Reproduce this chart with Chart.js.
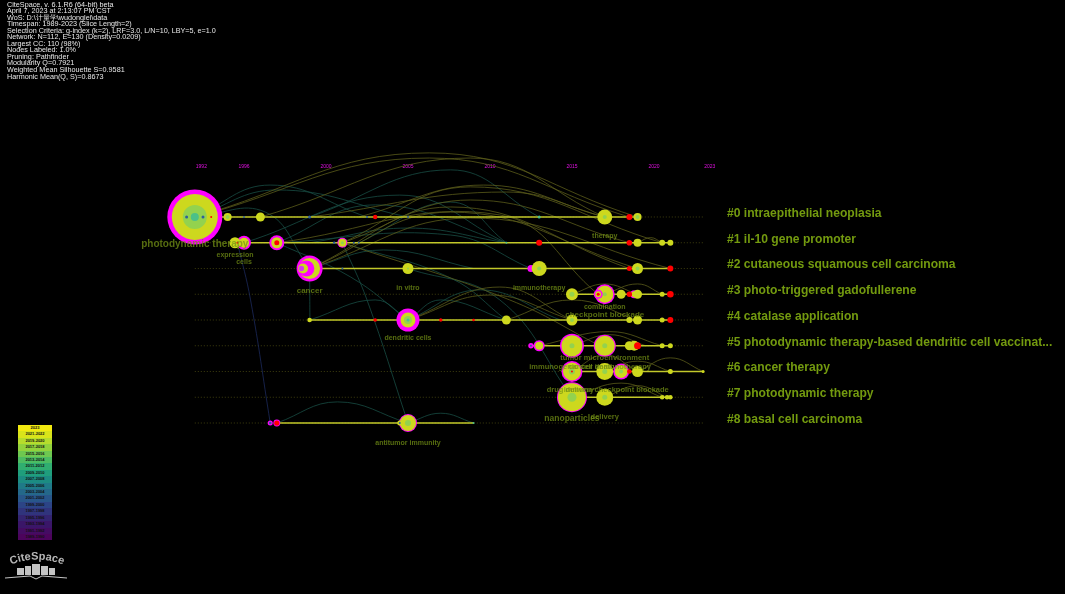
<!DOCTYPE html>
<html><head><meta charset="utf-8">
<script src="https://cdn.jsdelivr.net/npm/chart.js@4"></script>
<style>
html,body{margin:0;padding:0;background:#000;width:1065px;height:594px;overflow:hidden}
#wrap{position:relative;width:1065px;height:594px;filter:blur(.35px)}
canvas{position:absolute;left:0;top:0}
#info{position:absolute;left:7px;top:1.5px;color:#e8e8e8;font:7.22px/6.55px "Liberation Sans",Arial,sans-serif;white-space:pre}
#bar{position:absolute;left:18px;top:425px;width:34px;height:115px;display:flex;flex-direction:column}
#bar div{flex:1;font:bold 4px/6.4px "Liberation Sans",sans-serif;text-align:center;color:#111}
#logo{position:absolute;left:0;top:545px}
</style></head><body><div id="wrap">
<canvas id="c" width="1065" height="594"></canvas>
<div id="info"></div><div id="bar"></div>
<svg id="logo" width="75" height="40" viewBox="0 0 75 40">
<defs><path id="arc" d="M10 20 Q37 9 64 20"/></defs>
<text font-family="Liberation Sans" font-weight="bold" font-size="11" fill="#b5b5b5"><textPath href="#arc" startOffset="50%" text-anchor="middle">CiteSpace</textPath></text>
<g fill="#c4c4c4"><rect x="17" y="23" width="7" height="7"/><rect x="25" y="21" width="6" height="9"/><rect x="32" y="19" width="8" height="11"/><rect x="41" y="21" width="7" height="9"/><rect x="49" y="23" width="6" height="7"/></g>
<path d="M5 33 L30 31 L36 34 L42 31 L67 33" stroke="#c4c4c4" stroke-width="1" fill="none"/>
</svg>
</div>
<script>
const infoLines=["CiteSpace, v. 6.1.R6 (64-bit) beta","April 7, 2023 at 2:13:07 PM CST","WoS: D:\\计量学\\wudonglei\\data","Timespan: 1989-2023 (Slice Length=2)","Selection Criteria: g-index (k=2), LRF=3.0, L/N=10, LBY=5, e=1.0","Network: N=112, E=130 (Density=0.0209)","Largest CC: 110 (98%)","Nodes Labeled: 1.0%","Pruning: Pathfinder","Modularity Q=0.7921","Weighted Mean Silhouette S=0.9581","Harmonic Mean(Q, S)=0.8673"];
const legendYears=["2023","2021-2022","2019-2020","2017-2018","2015-2016","2013-2014","2011-2012","2009-2010","2007-2008","2005-2006","2003-2004","2001-2002","1999-2000","1997-1998","1995-1996","1993-1994","1991-1992","1989-1990"];
const legendColors=["#f2ea10","#d9e41a","#b6dc2c","#92d23c","#6ec850","#4cbc62","#30ae70","#1f9e7c","#1c8c82","#1f7a88","#24688a","#28568a","#2c4486","#30347c","#342470","#3a1668","#440c62","#4c045c"];
const clusterLabels=["#0 intraepithelial neoplasia","#1 il-10 gene promoter","#2 cutaneous squamous cell carcinoma","#3 photo-triggered gadofullerene","#4 catalase application","#5 photodynamic therapy-based dendritic cell vaccinat...","#6 cancer therapy","#7 photodynamic therapy","#8 basal cell carcinoma"];
const clusterTracks=[0,1,2,3,4,5,6,7,8];
const yearTickPositions=[1992.4,1995,2000,2005,2010,2015,2020,2023.4];
const yearTickLabels=["1992","1996","2000","2005","2010","2015","2020","2023"];
const trackStarts=[1992,1994.45,1999,2015,1999,2012.5,2015,2015,1997];
const trackEnds=[2019,2021,2021,2021,2021,2021,2023,2021,2009];
const baselineStart=1992,baselineEnd=2023;

const oliveLinks=[
[1992,0,2006.3,-2.49,2019,0],[1992,0,2006.3,-2.29,2018.5,0],[1996,0,2008.8,-2.29,2017,0],
[2002,0,2009.6,-1.24,2017,0],[1999,0,2011,-0.97,2017,0],[2001,1,2008.8,-1.17,2020.5,1],
[2001,1,2008.8,-0.66,2018.5,1],[1999,2,2007.6,-0.39,2018.5,2],[1999,2,2007.6,-0.19,2019,2],
[1999,2,2008.8,0.04,2021,2],[2005,4,2010.6,2.72,2015,4],[2005,4,2010,3.03,2015,4],
[2011,4,2015,3.22,2019,4],[2017,3,2019,2.6,2020.5,3],[2019,1,2019.8,0.8,2020.5,1],
[1997,1,2010.6,-0.08,2016.6,3],[2001,1,2011.2,3.22,2016.7,5],[2013,5,2017.3,4.45,2020.5,5],
[2015,5,2017.3,4.57,2019.5,5],[2015,6,2017,5.35,2019,6],[2019,6,2021,5.47,2023,6],
[2017,6,2019,5.6,2021,6],[2015,7,2018,6.45,2020.5,7],[2017,7,2019,6.55,2020.8,7],[2015,3,2017,2.6,2019,3]];
const tealLinks=[
[1992,0,1996.6,-1.24,2002.5,0],[1992,0,1997,-1.05,2005,0],[1999,0,2007.6,-1.83,2013,0],
[1995,1,2004.5,-0.85,2011,1],[1997,1,2003,-0.47,2011,1],[1997,1,2007.6,0.7,2012.5,2],
[1992,0,1996.3,-0.19,1999,2],[1999,2,1999.01,3,1999.02,4],[2001,1,2002.5,3.22,2005,8],
[1999,4,2003,3.22,2005,4],[2005,4,2007,3.22,2011,4],[1997,8,2000.7,7.18,2005,8],
[2005,8,2007,7.62,2009,8],[2001,1,2007.6,2.37,2011,4],[2002,1,2007.6,-0.58,2011,1],
[1999,2,2003.5,1.28,2009,2],[1997,1,2001.5,2.33,2005,4],[1999,1,2005,0.43,2011,1],
[2005,4,2009.4,2.83,2014.3,4],[2005,2,2010.6,3.22,2015,7]];
const navyLinks=[[1994.6,1,1995.4,3.22,1996.6,8]];

const outerBursts=[[1992,0,27.5],[1995,1,7],[1997,1,7.5],[2001,1,5],[1999,2,13],[2017,3,10],[2018.8,3,4],[2005,4,11.5],[2012.5,2,3.5],[2012.5,5,2.7],[2013,5,5.5],[2015,5,12],[2017,5,11],[2015,6,10.5],[2018,6,8],[2015,7,15],[2005,8,9],[1996.6,8,2.5],[1997,8,3.4]];
const bodies=[[1992,0,23],[1994,0,4],[1996,0,4.5],[2017,0,7.5],[2019,0,4],[1994.45,1,5.5],[1995,1,5],[1997,1,5.5],[2001,1,4],[2019,1,4],[2020.5,1,3],[2021,1,3],[1999,2,10.5],[2005,2,5.5],[2013,2,7.5],[2019,2,5.5],[2015,3,6],[2017,3,8.5],[2018,3,4.5],[2018.8,3,3],[2019,3,4.5],[2020.5,3,2.5],[1999,4,2.3],[2005,4,7.5],[2011,4,4.5],[2015,4,5.5],[2018.5,4,3],[2019,4,4.5],[2020.5,4,2.5],[2013,5,4],[2015,5,10.5],[2017,5,10],[2018.5,5,4.5],[2018.8,5,5],[2020.5,5,2.5],[2021,5,2.5],[2015,6,9],[2017,6,8.5],[2018,6,6.5],[2019,6,5.5],[2021,6,2.5],[2023,6,1.5],[2015,7,14],[2017,7,8.5],[2020.5,7,2.3],[2020.8,7,2.3],[2021,7,2.3],[2005,8,8],[2004.5,8,2.5]];
const greenCores=[[1992,0,12],[1994,0,2],[2017,0,2],[2019,0,2],[2001,1,1.5],[2005,2,1],[2013,2,2],[2019,2,2],[2015,3,2.5],[2017,3,2],[2005,4,4],[2015,4,2],[2015,5,2.5],[2017,5,2.5],[2015,6,3],[2017,6,2.5],[2018,6,2],[2015,7,4.5],[2017,7,2.5],[2005,8,3]];
const tealCores=[[1992,0,4],[2005,4,1.5],[2013,0,1.5],[2009,8,1],[2011,1,1]];
const blueDots=[[1991.5,0,1.5],[1992.5,0,1.5],[1995,0,1],[1999,0,1.5],[2002.5,0,1],[2005,0,1],[2000.5,1,1.2],[2001.7,1,1],[2002,1,1],[2001,2,1],[1996.6,8,1.3],[2004.5,8,1],[2012.5,5,1]];
const innerBursts=[[1998.8,2,8],[2016.6,3,4.5]];
const innerBodies=[[1998.6,2,5],[2016.6,3,3]];
const innerBurstCores=[[1998.5,2,2.7]];
const redNodes=[[1993,0,1],[2003,0,2.2],[2018.5,0,3],[1994.6,1,1],[1997,1,2.5],[2013,1,3],[2018.5,1,2.8],[2018.5,2,2.5],[2021,2,3],[2016.6,3,1.5],[2018.5,3,2.7],[2021,3,3.3],[2003,4,1.8],[2007,4,1.7],[2009,4,1.3],[2021,4,3],[2019,5,3.5],[2015,6,1],[2018.5,6,2.3],[1997,8,2.6]];

const nodeLabelTexts=["photodynamic therapy","expression","cells","cancer","in vitro","immunotherapy","therapy","combination","checkpoint blockade","dendritic cells","tumor microenvironment","immunogenic cell death","cancer immunotherapy","drug delivery","immune checkpoint blockade","nanoparticles","delivery","antitumor immunity"];
const nodeLabelYears=[1992,1994.45,1995,1999,2005,2013,2017,2017,2017,2005,2017,2015,2017.3,2014.9,2017.7,2015,2017,2005];
const nodeLabelTracks=[1.05,1.47,1.74,2.86,2.75,2.75,0.73,3.48,3.79,4.71,5.47,5.82,5.82,6.72,6.72,7.85,7.77,8.78];
const nodeLabelSizes=[10,7,7,8,7,7,7,7,8,7,7.5,7.5,7.5,7.5,7.5,8.5,7.5,7];

document.getElementById('info').textContent=infoLines.join("\n");
document.getElementById('bar').innerHTML=legendYears.map((y,i)=>`<div style="background:${legendColors[i]}">${y}</div>`).join("");

const pts=a=>a.map(([x,y,r])=>({x,y,r}));
const datasets=[];
function addLinks(list,color,width,order){list.forEach(l=>datasets.push({type:'line',data:[{x:l[0],y:l[1]},{x:l[2],y:l[3]},{x:l[4],y:l[5]}],borderColor:color,borderWidth:width,tension:0.42,capBezierPoints:false,pointRadius:0,fill:false,clip:false,order}));}
clusterTracks.forEach(t=>datasets.push({type:'line',data:[{x:baselineStart,y:t},{x:baselineEnd,y:t}],borderColor:'#4c4c12',borderWidth:0.8,borderDash:[1,2],pointRadius:0,order:100,clip:false}));
addLinks(tealLinks,'#184c44',0.8,90);
addLinks(navyLinks,'#1c2a5c',0.8,90);
addLinks(oliveLinks,'#5a5c1a',0.8,89);
clusterTracks.forEach(t=>datasets.push({type:'line',data:[{x:trackStarts[t],y:t},{x:trackEnds[t],y:t}],borderColor:'#c2c82a',borderWidth:1.7,pointRadius:0,order:80,clip:false}));
[[outerBursts,'#ff00ff'],[bodies,'#cdd81e'],[greenCores,'#93d24e'],[tealCores,'#4cc088'],[blueDots,'#2f5f9a'],[innerBursts,'#ff00ff'],[innerBodies,'#cdd81e'],[innerBurstCores,'#d23cf0'],[redNodes,'#ff0000']].forEach(([a,c],i)=>datasets.push({type:'bubble',data:pts(a),backgroundColor:c,borderWidth:0,hoverRadius:0,order:70-i,clip:false}));

const labelPlugin={id:'nodeLabels',afterDatasetsDraw(ch){const {ctx,scales:{x,y}}=ch;ctx.save();ctx.textAlign='center';ctx.textBaseline='middle';ctx.fillStyle='rgba(116,146,22,0.75)';
nodeLabelTexts.forEach((t,i)=>{ctx.font=`bold ${nodeLabelSizes[i]}px "Liberation Sans",sans-serif`;ctx.fillText(t,x.getPixelForValue(nodeLabelYears[i]),y.getPixelForValue(nodeLabelTracks[i]));});ctx.restore();}};

new Chart(document.getElementById('c'),{type:'bubble',data:{datasets},plugins:[labelPlugin],options:{
responsive:false,animation:false,events:[],layout:{padding:0,autoPadding:false},
plugins:{legend:{display:false},tooltip:{enabled:false},title:{display:false}},
scales:{
x:{type:'linear',position:'top',min:1980.12,max:2024.15,grid:{display:false,tickLength:0,drawTicks:false},border:{display:false},
 afterBuildTicks(s){s.ticks=yearTickPositions.map(v=>({value:v}));},
 afterFit(s){s.height=170;s.paddingLeft=0;s.paddingRight=0;},
 ticks:{autoSkip:false,maxRotation:0,padding:0,color:'#e010e0',font:{size:5,family:'"Liberation Sans"'},callback:(v)=>yearTickLabels[yearTickPositions.indexOf(v)]}},
y:{type:'linear',position:'right',reverse:true,min:-1.825,max:14.64,grid:{display:false,tickLength:0,drawTicks:false},border:{display:false},
 afterBuildTicks(s){s.ticks=clusterTracks.map(v=>({value:v}));},
 afterFit(s){s.width=343;s.paddingTop=0;s.paddingBottom=0;},
 ticks:{autoSkip:false,padding:5,labelOffset:-3.5,color:'#739a0f',font:{size:12.1,weight:'bold',family:'"Liberation Sans"'},callback:(v)=>clusterLabels[v]}}
}}});
</script></body></html>
